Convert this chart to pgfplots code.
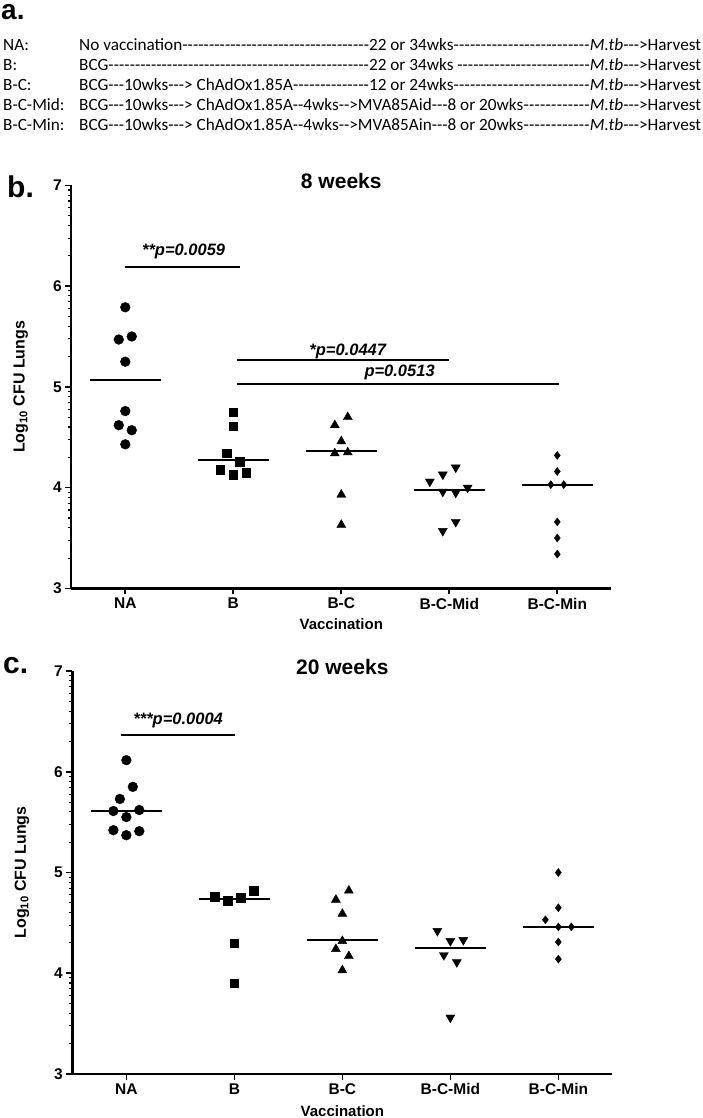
\documentclass[border=0pt]{standalone}
\usepackage{fontspec}
\setmainfont{Liberation Sans}
\newfontfamily\calfont{Carlito}[Ligatures=TeXOff]
\usepackage{pgfplots}
\pgfplotsset{compat=1.18}

\newcommand\dsh{\xleaders\hbox{-}\hfill}

\pgfplotsset{
  vacc/.style={
    scale only axis, width=540pt, height=403pt,
    xmin=-0.5, xmax=4.5, ymin=3, ymax=7,
    axis lines*=left, axis line style={line width=2.4pt,-},
    xtick={0,1,2,3,4}, xticklabels={NA,B,B-C,B-C-Mid,B-C-Min},
    ytick={3,4,5,6,7},
    minor ytick={3.301,3.477,3.602,3.699,3.778,3.845,3.903,3.954,
                 4.301,4.477,4.602,4.699,4.778,4.845,4.903,4.954,
                 5.301,5.477,5.602,5.699,5.778,5.845,5.903,5.954,
                 6.301,6.477,6.602,6.699,6.778,6.845,6.903,6.954},
    tick align=outside, major tick length=6pt, minor tick length=3.5pt,
    tick style={black, line width=1.6pt}, minor tick style={line width=1.1pt},
    tick label style={font=\bfseries\fontsize{15.5}{15.5}\selectfont},
    /pgf/number format/assume math mode=true,
    xlabel={Vaccination},
    xlabel style={font=\bfseries\fontsize{15}{15}\selectfont},
    ylabel={Log\textsubscript{10} CFU Lungs},
    ylabel style={font=\bfseries\fontsize{16}{16}\selectfont,
      at={(axis description cs:-0.0935,0.5)}, anchor=center},
    title style={font=\bfseries\fontsize{21}{21}\selectfont, at={(0.5,1)}, anchor=center, yshift=-2pt},
    clip=false,
  },
  med/.style={black, line width=2pt, no markers, forget plot},
  pts/.style={only marks, black, mark options={fill=black, draw=black}},
}
\tikzset{
  ptext/.style={font=\bfseries\itshape\fontsize{16.5}{16.5}\selectfont, anchor=base, inner sep=0},
  plab/.style={anchor=base west, inner sep=0, text depth=0pt, font=\bfseries\fontsize{30}{30}\selectfont},
}

\begin{document}
\begin{tikzpicture}[x=1pt,y=1pt]
\useasboundingbox (0,0) rectangle (703,-1118);

% panel a: schedule text
\node[plab, text height=15pt, font=\bfseries\fontsize{28}{28}\selectfont] at (1,-20) {a.};
\begin{scope}[every node/.style={anchor=base west,inner sep=0,font=\calfont\fontsize{17.2}{17.2}\selectfont}]
\node at (3,-51) {NA:};
\node at (79,-51) {\hbox to 622pt{\hbox to 290pt{No vaccination\dsh}22 or 34wks\dsh\textit{M.tb}--->Harvest}};
\node at (3,-70.8) {B:};
\node at (79,-70.8) {\hbox to 622pt{\hbox to 290pt{BCG\dsh}22 or 34wks\ \dsh\textit{M.tb}--->Harvest}};
\node at (3,-90.6) {B-C:};
\node at (79,-90.6) {\hbox to 622pt{\hbox to 290pt{BCG---10wks---> ChAdOx1.85A\dsh}12 or 24wks\dsh\textit{M.tb}--->Harvest}};
\node at (3,-110.9) {B-C-Mid:};
\node at (79,-110.9) {\hbox to 622pt{BCG---10wks---> ChAdOx1.85A--4wks-->MVA85Aid---8 or 20wks\dsh\textit{M.tb}--->Harvest}};
\node at (3,-130.5) {B-C-Min:};
\node at (79,-130.5) {\hbox to 622pt{BCG---10wks---> ChAdOx1.85A--4wks-->MVA85Ain---8 or 20wks\dsh\textit{M.tb}--->Harvest}};
\end{scope}

% panel b: 8 weeks
\node[plab] at (7,-197) {b.};
\begin{axis}[vacc, at={(66,-584)}, anchor=south west, title={8 weeks},
  xlabel style={at={(axis description cs:0.5,-0.088)}, anchor=center}]
\addplot[pts, mark=*, mark size=4.9pt] coordinates {
  (0,5.79) (-0.06,5.47) (0.06,5.50) (0,5.25) (0,4.76) (-0.06,4.62) (0.06,4.57) (0,4.43)};
\addplot[pts, mark=square*, mark size=4.3pt] coordinates {
  (1,4.75) (1,4.61) (0.94,4.34) (1.06,4.26) (0.88,4.18) (1,4.13) (1.12,4.15)};
\addplot[pts, mark=triangle*, mark size=5.2pt] coordinates {
  (2.06,4.70) (1.94,4.62) (2,4.46) (1.94,4.34) (2.06,4.35) (2,3.93) (2,3.63)};
\addplot[pts, mark=triangle*, mark size=5.2pt, mark options={rotate=180}] coordinates {
  (2.82,4.06) (2.94,4.13) (3.06,4.20) (2.94,3.96) (3.06,3.95) (3.17,4.00) (3.06,3.66) (2.94,3.57)};
\addplot[pts, mark=diamond*, mark size=4pt] coordinates {
  (4,4.32) (4,4.16) (3.94,4.03) (4.06,4.03) (4,3.66) (4,3.50) (4,3.34)};
\addplot[med] coordinates {(-0.33,5.07) (0.33,5.07)};
\addplot[med] coordinates {(0.67,4.27) (1.33,4.27)};
\addplot[med] coordinates {(1.67,4.36) (2.33,4.36)};
\addplot[med] coordinates {(2.67,3.98) (3.33,3.98)};
\addplot[med] coordinates {(3.67,4.03) (4.33,4.03)};
% significance bars
\addplot[med] coordinates {(0,6.19) (1.06,6.19)};
\addplot[med] coordinates {(1.03,5.27) (3.0,5.27)};
\addplot[med] coordinates {(1.03,5.03) (4.02,5.03)};
\node[ptext] at (axis cs:0.54,6.30) {**p=0.0059};
\node[ptext] at (axis cs:2.06,5.31) {*p=0.0447};
\node[ptext] at (axis cs:2.54,5.10) {p=0.0513};
\end{axis}

% panel c: 20 weeks
\node[plab] at (3,-673) {c.};
\begin{axis}[vacc, at={(67,-1066)}, anchor=south west, title={20 weeks},
  xlabel style={at={(axis description cs:0.5,-0.091)}, anchor=center}]
\addplot[pts, mark=*, mark size=4.9pt] coordinates {
  (0,6.115) (0.06,5.85) (-0.06,5.73) (-0.12,5.61) (0.12,5.62) (0,5.55) (-0.12,5.42) (0.12,5.41) (0,5.37)};
\addplot[pts, mark=square*, mark size=4.3pt] coordinates {
  (0.82,4.76) (0.94,4.72) (1.06,4.75) (1.18,4.82) (1,4.30) (1,3.90)};
\addplot[pts, mark=triangle*, mark size=5.2pt] coordinates {
  (2.06,4.82) (1.94,4.73) (2,4.59) (2,4.32) (1.94,4.24) (2.06,4.17) (2,4.03)};
\addplot[pts, mark=triangle*, mark size=5.2pt, mark options={rotate=180}] coordinates {
  (2.88,4.42) (3,4.32) (3.12,4.33) (2.94,4.18) (3.06,4.11) (3,3.56)};
\addplot[pts, mark=diamond*, mark size=4pt] coordinates {
  (4,5.00) (4,4.65) (3.88,4.53) (4,4.46) (4.12,4.46) (4,4.31) (4,4.14)};
\addplot[med] coordinates {(-0.33,5.61) (0.33,5.61)};
\addplot[med] coordinates {(0.67,4.74) (1.33,4.74)};
\addplot[med] coordinates {(1.67,4.33) (2.33,4.33)};
\addplot[med] coordinates {(2.67,4.25) (3.33,4.25)};
\addplot[med] coordinates {(3.67,4.46) (4.33,4.46)};
\addplot[med] coordinates {(-0.05,6.36) (1.01,6.36)};
\node[ptext] at (axis cs:0.48,6.465) {***p=0.0004};
\end{axis}
\end{tikzpicture}
\end{document}
